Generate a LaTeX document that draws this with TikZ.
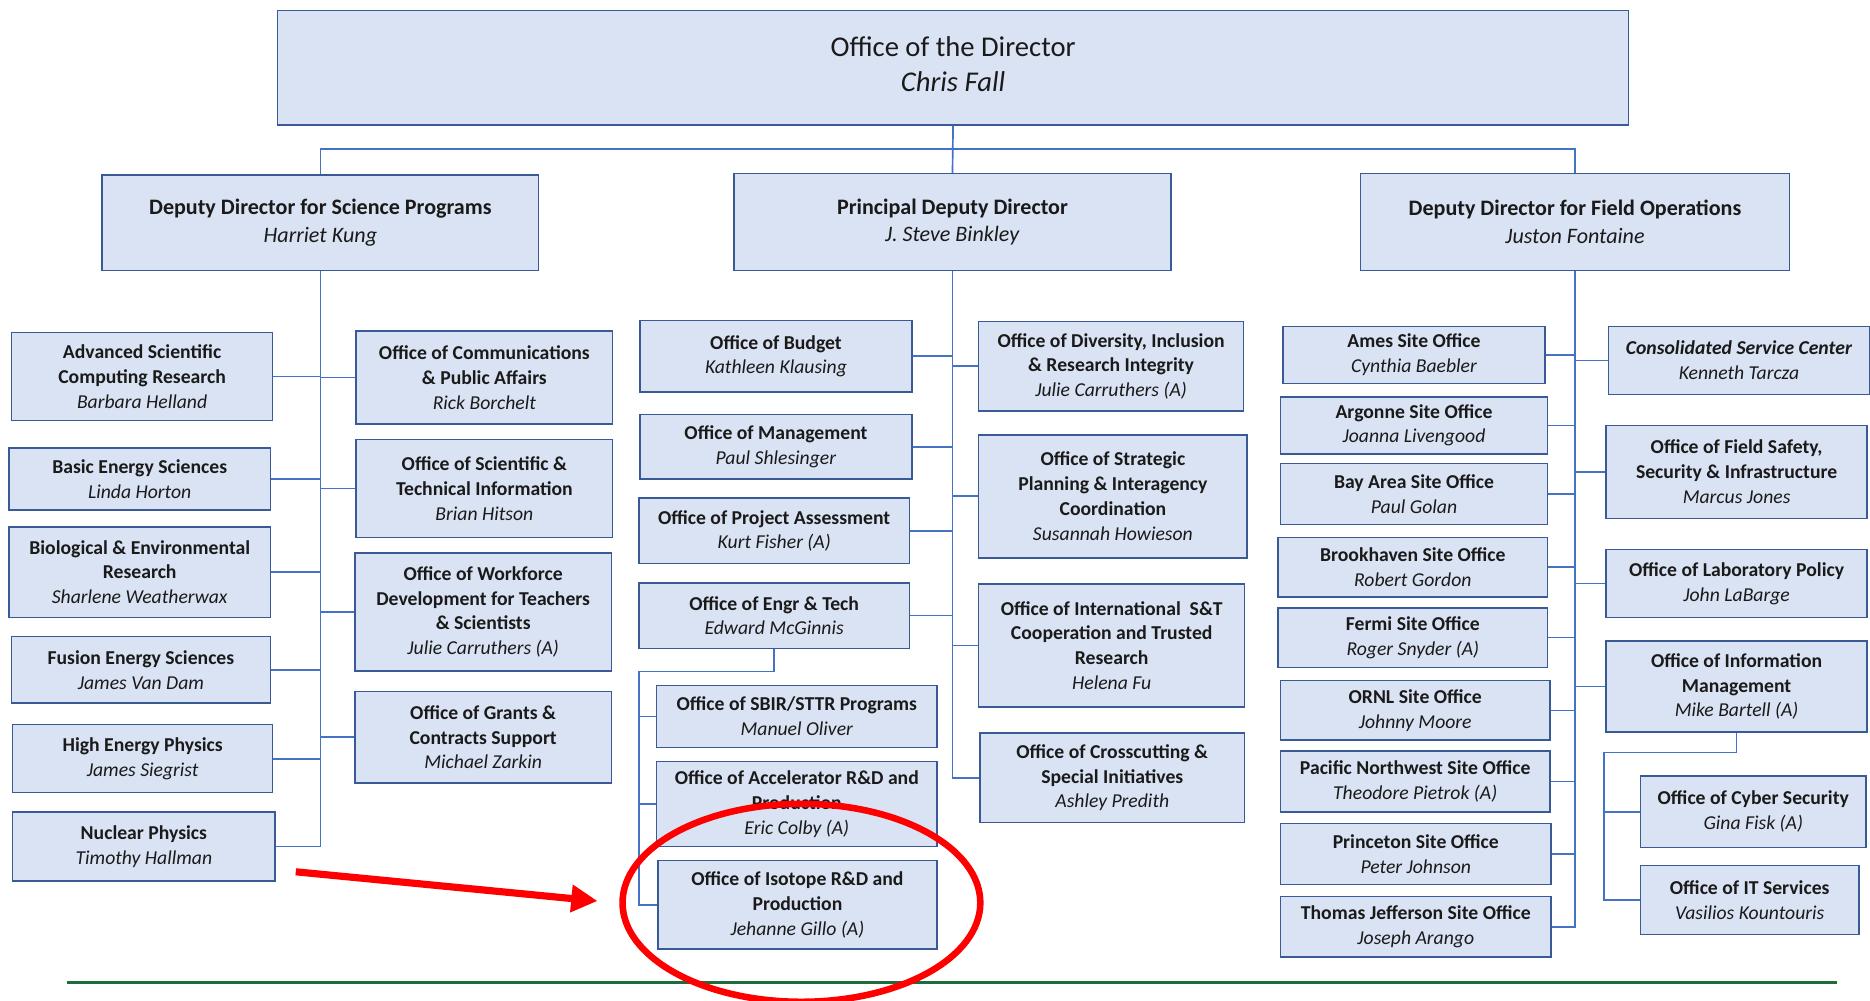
\documentclass[tikz,border=0pt]{standalone}
\usepackage{fontspec}
\setmainfont{Carlito}
\usetikzlibrary{arrows.meta,shapes.geometric}
\definecolor{boxfill}{HTML}{DAE3F3}
\definecolor{boxline}{HTML}{3A5A96}
\definecolor{connline}{HTML}{4472C4}
\definecolor{txt}{HTML}{1A1A1A}
\definecolor{hlred}{HTML}{FF0000}
\definecolor{rulegreen}{HTML}{1E6B3C}
\tikzset{
  obox/.style={draw=boxline, fill=boxfill, line width=1.3pt, inner sep=1pt, align=center, text=txt,
    font=\fontsize{16.5}{20.8}\selectfont},
  depbox/.style={font=\fontsize{18.5}{23}\selectfont},
  topbox/.style={font=\fontsize{24}{30}\selectfont},
  conn/.style={draw=connline, line width=1.4pt},
}
\newcommand{\obT}[1]{\textbf{#1}}
\newcommand{\obN}[1]{\textit{#1}}
\newcommand{\orgbox}[7][]{\node[obox,#1, minimum width={(#5-#3)*1pt}, minimum height={(#6-#4)*1pt}, anchor=north west] (#2) at (#3,#4) {#7};}
\begin{document}
\begin{tikzpicture}[x=1pt,y=-1pt]
\useasboundingbox (0,0) rectangle (1568,839);
% top level
\orgbox[topbox]{dir}{232}{8}{1365}{104}{Office of the Director\\\obN{Chris Fall}\\[-24pt]}
\orgbox[depbox]{dsci}{85}{146}{451}{226}{\obT{Deputy Director for Science Programs}\\\obN{Harriet Kung}}
\orgbox[depbox]{dpd}{615}{145}{981}{226}{\obT{Principal Deputy Director}\\\obN{J. Steve Binkley}}
\orgbox[depbox]{dfield}{1140}{145}{1500}{226}{\obT{Deputy Director for Field Operations}\\\obN{Juston Fontaine}}
% science programs
\orgbox{ascr}{9}{278}{228}{352}{\obT{Advanced Scientific}\\\obT{Computing Research}\\\obN{Barbara Helland}}
\orgbox{bes}{7}{375}{226}{427}{\obT{Basic Energy Sciences}\\\obN{Linda Horton}}
\orgbox{ber}{7}{441}{226}{517}{\obT{Biological \& Environmental}\\\obT{Research}\\\obN{Sharlene Weatherwax}}
\orgbox{fes}{9}{533}{226}{589}{\obT{Fusion Energy Sciences}\\\obN{James Van Dam}}
\orgbox{hep}{10}{607}{228}{664}{\obT{High Energy Physics}\\\obN{James Siegrist}}
\orgbox{np}{10}{680}{230}{738}{\obT{Nuclear Physics}\\\obN{Timothy Hallman}}
\orgbox{comms}{298}{277}{513}{355}{\obT{Office of Communications}\\\obT{\& Public Affairs}\\\obN{Rick Borchelt}}
\orgbox{osti}{298}{368}{513}{450}{\obT{Office of Scientific \&}\\\obT{Technical Information}\\\obN{Brian Hitson}}
\orgbox{wdts}{297}{463}{512}{562}{\obT{Office of Workforce}\\\obT{Development for Teachers}\\\obT{\& Scientists}\\\obN{Julie Carruthers (A)}}
\orgbox{grants}{297}{579}{512}{656}{\obT{Office of Grants \&}\\\obT{Contracts Support}\\\obN{Michael Zarkin}}
% principal deputy
\orgbox{budget}{536}{268}{764}{328}{\obT{Office of Budget}\\\obN{Kathleen Klausing}}
\orgbox{mgmt}{536}{347}{764}{401}{\obT{Office of Management}\\\obN{Paul Shlesinger}}
\orgbox{opa}{535}{417}{762}{472}{\obT{Office of Project Assessment}\\\obN{Kurt Fisher (A)}}
\orgbox{engr}{535}{488}{762}{543}{\obT{Office of Engr \& Tech}\\\obN{Edward McGinnis}}
\orgbox{sbir}{550}{574}{785}{626}{\obT{Office of SBIR/STTR Programs}\\\obN{Manuel Oliver}}
\orgbox{acc}{550}{638}{785}{709}{\obT{Office of Accelerator R\&D and}\\\obT{Production}\\\obN{Eric Colby (A)}}
\orgbox{iso}{551}{721}{785}{795}{\obT{Office of Isotope R\&D and}\\\obT{Production}\\\obN{Jehanne Gillo (A)}}
\orgbox{div}{820}{269}{1042}{344}{\obT{Office of Diversity, Inclusion}\\\obT{\& Research Integrity}\\\obN{Julie Carruthers (A)}}
\orgbox{strat}{820}{364}{1045}{467}{\obT{Office of Strategic}\\\obT{Planning \& Interagency}\\\obT{Coordination}\\\obN{Susannah Howieson}}
\orgbox{intl}{820}{489}{1043}{592}{\obT{Office of International\ \ S\&T}\\\obT{Cooperation and Trusted}\\\obT{Research}\\\obN{Helena Fu}}
\orgbox{cross}{821}{614}{1043}{689}{\obT{Office of Crosscutting \&}\\\obT{Special Initiatives}\\\obN{Ashley Predith}}
% field operations
\orgbox{ames}{1075}{273}{1295}{321}{\obT{Ames Site Office}\\\obN{Cynthia Baebler}}
\orgbox{argonne}{1073}{332}{1297}{380}{\obT{Argonne Site Office}\\\obN{Joanna Livengood}}
\orgbox{bay}{1073}{388}{1297}{439}{\obT{Bay Area Site Office}\\\obN{Paul Golan}}
\orgbox{bnl}{1071}{450}{1297}{500}{\obT{Brookhaven Site Office}\\\obN{Robert Gordon}}
\orgbox{fermi}{1071}{509}{1297}{559}{\obT{Fermi Site Office}\\\obN{Roger Snyder (A)}}
\orgbox{ornl}{1073}{570}{1299}{620}{\obT{ORNL Site Office}\\\obN{Johnny Moore}}
\orgbox{pnw}{1073}{629}{1299}{680}{\obT{Pacific Northwest Site Office}\\\obN{Theodore Pietrok (A)}}
\orgbox{princeton}{1073}{690}{1300}{741}{\obT{Princeton Site Office}\\\obN{Peter Johnson}}
\orgbox{tj}{1073}{751}{1300}{802}{\obT{Thomas Jefferson Site Office}\\\obN{Joseph Arango}}
\orgbox{csc}{1348}{273}{1567}{330}{\textbf{\textit{Consolidated Service Center}}\\\obN{Kenneth Tarcza}}
\orgbox{fss}{1346}{356}{1565}{434}{\obT{Office of Field Safety,}\\\obT{Security \& Infrastructure}\\\obN{Marcus Jones}}
\orgbox{labpol}{1346}{460}{1565}{517}{\obT{Office of Laboratory Policy}\\\obN{John LaBarge}}
\orgbox{info}{1346}{537}{1565}{613}{\obT{Office of Information}\\\obT{Management}\\\obN{Mike Bartell (A)}}
\orgbox{cyber}{1375}{650}{1564}{710}{\obT{Office of Cyber Security}\\\obN{Gina Fisk (A)}}
\orgbox{its}{1375}{725}{1558}{783}{\obT{Office of IT Services}\\\obN{Vasilios Kountouris}}
% connectors: top
\coordinate (bus) at (798,125);
\draw[conn] (dir.south) -- (dpd.north);
\draw[conn] (dsci.north) |- (bus) -| (dfield.north);
% science trunk
\draw[conn] (dsci.south) |- (np.east);
\foreach \n in {ascr,bes,ber,fes,hep} \draw[conn] (\n.east) -- (\n.east -| dsci.south);
\foreach \n in {comms,osti,wdts,grants} \draw[conn] (\n.west) -- (\n.west -| dsci.south);
% principal trunk
\draw[conn] (dpd.south) |- (cross.west);
\foreach \n in {budget,mgmt,opa,engr} \draw[conn] (\n.east) -- (\n.east -| dpd.south);
\foreach \n in {div,strat,intl} \draw[conn] (\n.west) -- (\n.west -| dpd.south);
\coordinate (ebus) at (536,563);
\draw[conn] (engr.south) |- (ebus) |- (iso.west);
\foreach \n in {sbir,acc} \draw[conn] (\n.west) -- (\n.west -| ebus);
% field trunk
\draw[conn] (dfield.south) |- (tj.east);
\foreach \n in {ames,argonne,bay,bnl,fermi,ornl,pnw,princeton} \draw[conn] (\n.east) -- (\n.east -| dfield.south);
\foreach \n in {csc,fss,labpol,info} \draw[conn] (\n.west) -- (\n.west -| dfield.south);
\coordinate (ibus) at (1345,631);
\draw[conn] (info.south) |- (ibus) |- (its.west);
\draw[conn] (cyber.west) -- (cyber.west -| ibus);
% green rule
\coordinate (gl) at (56,824);
\coordinate (gr) at (1540,824);
\draw[rulegreen, line width=2.6pt] (gl) -- (gr);
% highlight
\node[draw=hlred, line width=5.5pt, ellipse, minimum width=300pt, minimum height=166pt, inner sep=0pt] (hl) at (672,757) {};
\coordinate (arrS) at (248,731);
\coordinate (arrE) at (501,755.5);
\draw[hlred, line width=6pt, -{Triangle[length=22pt,width=22pt]}] (arrS) -- (arrE);
\end{tikzpicture}
\end{document}
